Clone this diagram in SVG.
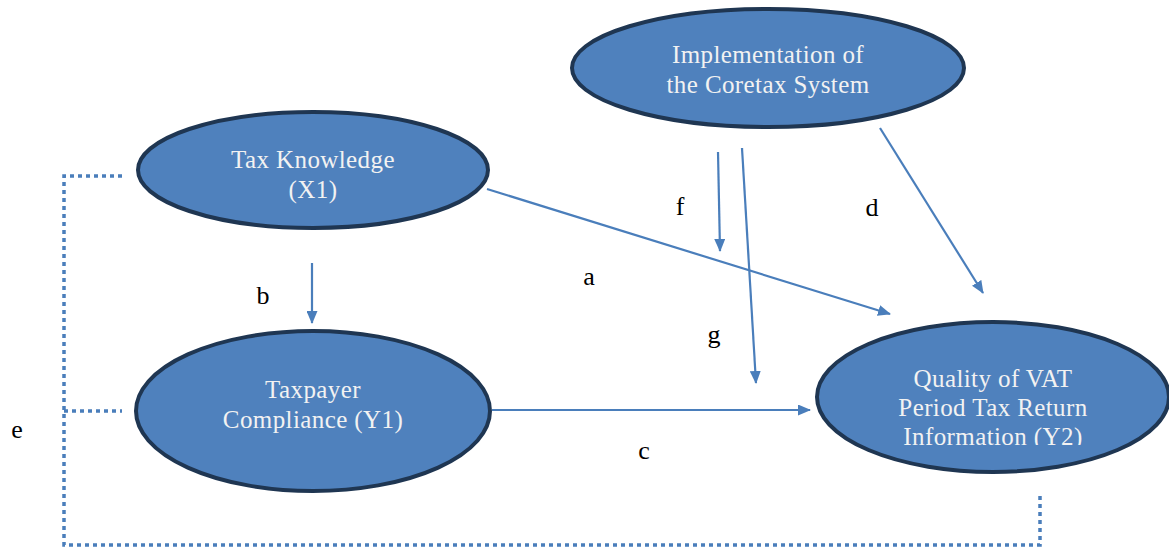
<svg xmlns="http://www.w3.org/2000/svg" width="1169" height="548" viewBox="0 0 1169 548">
<style>
.node{fill:#4F81BD;stroke:#1F3652;stroke-width:4}
.nt{font-family:"Liberation Serif","DejaVu Serif",serif;font-size:25px;letter-spacing:0.4px;fill:#F2F2F2;text-anchor:middle}
.lbl{font-family:"Liberation Serif","DejaVu Serif",serif;font-size:26px;fill:#000;text-anchor:middle}
.arr{stroke:#4A7EBB;stroke-width:2.2;fill:none;marker-end:url(#ah)}
.dot{stroke:#4A7EBB;stroke-width:3.5;fill:none;stroke-dasharray:4 4}
</style>
<defs>
<marker id="ah" markerWidth="13" markerHeight="11" refX="12" refY="5.5" orient="auto" markerUnits="userSpaceOnUse" viewBox="0 0 13 11">
<path d="M0,0 L13,5.5 L0,11 z" fill="#4A7EBB"/>
</marker>
<clipPath id="qclip"><rect x="800" y="300" width="369" height="145"/></clipPath>
</defs>
<rect width="1169" height="548" fill="#fff"/>
<g id="connectors">
<path class="dot" d="M122,176 H64 V545 H1040 V492"/>
<path class="dot" d="M64,411 H122"/>
<line class="arr" x1="487" y1="189" x2="890" y2="314"/>
<line class="arr" x1="312" y1="263" x2="312" y2="323"/>
<line class="arr" x1="718" y1="152" x2="720" y2="251"/>
<line class="arr" x1="742" y1="148" x2="756" y2="383"/>
<line class="arr" x1="880" y1="128" x2="983" y2="293"/>
<line class="arr" x1="492" y1="410" x2="810" y2="410"/>
</g>
<g id="labels">
<text class="lbl" x="589" y="285">a</text>
<text class="lbl" x="263" y="304">b</text>
<text class="lbl" x="644" y="459">c</text>
<text class="lbl" x="872" y="216">d</text>
<text class="lbl" x="17" y="438">e</text>
<text class="lbl" x="680" y="215">f</text>
<text class="lbl" x="714" y="343">g</text>
</g>
<g id="n-coretax">
<ellipse class="node" cx="768" cy="68" rx="196" ry="59"/>
<text class="nt" x="768" y="63">Implementation of</text>
<text class="nt" x="768" y="93">the Coretax System</text>
</g>
<g id="n-knowledge">
<ellipse class="node" cx="313" cy="170" rx="175" ry="58"/>
<text class="nt" x="313" y="168">Tax Knowledge</text>
<text class="nt" x="313" y="198">(X1)</text>
</g>
<g id="n-compliance">
<ellipse class="node" cx="313" cy="411" rx="177" ry="80"/>
<text class="nt" x="313" y="398">Taxpayer</text>
<text class="nt" x="313" y="428">Compliance (Y1)</text>
</g>
<g id="n-quality">
<ellipse class="node" cx="993" cy="397" rx="176" ry="75"/>
<g clip-path="url(#qclip)">
<text class="nt" x="993" y="387">Quality of VAT</text>
<text class="nt" x="993" y="416">Period Tax Return</text>
<text class="nt" x="993" y="445">Information (Y2)</text>
</g>
</g>
</svg>
